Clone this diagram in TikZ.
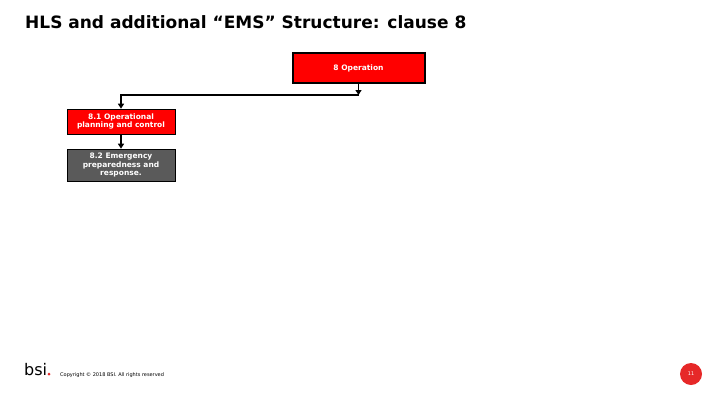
\documentclass[tikz,border=0pt]{standalone}
\usepackage{fontspec}
\setmainfont{DejaVu Sans}
\usetikzlibrary{arrows.meta}
\definecolor{bred}{RGB}{255,0,0}
\definecolor{bgray}{RGB}{90,90,90}
\definecolor{cred}{RGB}{230,40,40}
\begin{document}
\begin{tikzpicture}[x=1pt,y=-1pt,
  box/.style={draw=black,text=white,font=\bfseries\fontsize{7.5}{8.5}\selectfont,align=center,inner sep=0pt},
  conn/.style={draw=black,line width=1.5pt,-{Triangle[length=5pt,width=6pt]}}]
\useasboundingbox (0,0) rectangle (720,405);
\node[anchor=base west,font=\bfseries\fontsize{17}{20}\selectfont,inner sep=0pt] (title) at (25,28) {HLS and additional “EMS” Structure: clause 8};
\node[box,fill=bred,line width=2pt,minimum width=132pt,minimum height=30pt] (op) at (358.5,68) {8 Operation};
\node[box,fill=bred,line width=0.6pt,minimum width=108pt,minimum height=25pt] (p1) at (121,121.5) {8.1 Operational\\planning and control};
\node[box,fill=bgray,line width=0.6pt,minimum width=108pt,minimum height=32pt] (p2) at (121,165) {8.2 Emergency\\preparedness and\\response.};
\coordinate (j) at (358.5,95);
\draw[conn] (op.south) -- (j);
\draw[conn] (j) -| (p1.north);
\draw[conn] (p1.south) -- (p2.north);
\node[anchor=base west,font=\fontsize{16}{18}\selectfont,inner sep=0pt] (logo) at (24,375) {bsi};
\node[fill=cred,circle,minimum size=3pt,inner sep=0pt] (dot) at (49,374) {};
\node[anchor=base west,font=\fontsize{5}{6}\selectfont,inner sep=0pt] (copy) at (60,376) {Copyright © 2018 BSI. All rights reserved};
\node[circle,fill=cred,minimum size=22pt,inner sep=0pt,text=white,font=\fontsize{5}{6}\selectfont] (pg) at (691,374) {11};
\end{tikzpicture}
\end{document}
